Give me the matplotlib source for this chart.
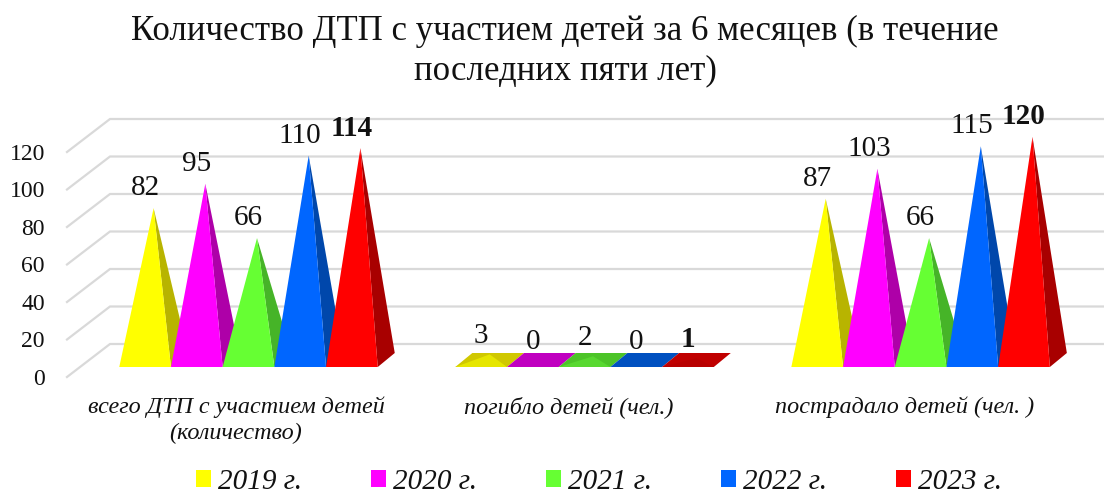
import numpy as np
import matplotlib.pyplot as plt
from matplotlib.patches import Patch

plt.rcParams['font.family'] = ['Liberation Serif', 'DejaVu Serif']

title = 'Количество ДТП с участием детей за 6 месяцев (в течение\nпоследних пяти лет)'
categories = ['всего ДТП с участием детей\n(количество)', 'погибло детей (чел.)', 'пострадало детей (чел. )']
years = ['2019 г.', '2020 г.', '2021 г.', '2022 г.', '2023 г.']
values_2019 = [82, 3, 87]
values_2020 = [95, 0, 103]
values_2021 = [66, 2, 66]
values_2022 = [110, 0, 115]
values_2023 = [114, 1, 120]
series = [values_2019, values_2020, values_2021, values_2022, values_2023]
y_ticks = [0, 20, 40, 60, 80, 100, 120]

front_colors = ['#ffff00', '#ff00ff', '#66ff33', '#0066ff', '#ff0000']
side_colors = ['#b8b400', '#ae00a8', '#46b428', '#0047ab', '#a80000']
flat_colors = ['#d0c800', '#c000c0', '#4cc428', '#0050c0', '#c00000']
low_colors = ['#e6e600', '#c000c0', '#58d830', '#0050c0', '#b80000']

W, H = 1104, 493
BAR_PX = 51.7      # pixels per bar width
VAL_PX = 1.875     # pixels per value unit
X0_PX = 248.5      # pixel of first group centre
Y0_PX = 367        # pixel of value 0 at the front of the bars
GROUP_STEP = 6.5

# depth offset of the 3d look, in data units
DX = 17 / BAR_PX
DY = 14 / VAL_PX

fig = plt.figure(figsize=(W / 100, H / 100), dpi=100)
ax = fig.add_axes([0, 0, 1, 1])
ax.set_xlim(-X0_PX / BAR_PX, (W - X0_PX) / BAR_PX)
ax.set_ylim((Y0_PX - H) / VAL_PX, Y0_PX / VAL_PX)
ax.axis('off')

# back wall grid and the slanted floor lines
wall_left = (110 - X0_PX) / BAR_PX
wall_front = (67 - X0_PX) / BAR_PX
wall_right = ax.get_xlim()[1]
back0 = (Y0_PX - 344) / VAL_PX
front0 = (Y0_PX - 377) / VAL_PX
for t in y_ticks:
    ax.plot([wall_front, wall_left, wall_right], [front0 + t, back0 + t, back0 + t],
            color='#d9d9d9', lw=1.6, zorder=1, solid_joinstyle='miter')
    ax.text((45 - X0_PX) / BAR_PX, front0 + t - 1.2, str(t), ha='right', va='center', fontsize=17, color='#111111')

# pyramids
label_shift = [-12.5, -16, -16]
order = 2
for g, cat in enumerate(categories):
    center = g * GROUP_STEP
    for s, vals in enumerate(series):
        v = vals[g]
        x0 = center + s - 2.5
        x1 = x0 + 1
        if v < 10:
            apex = (x0 + 0.5 + DX / 2, v + DY / 2)
            base = [(x0, 0), (x1, 0), (x1 + DX, DY), (x0 + DX, DY)]
            ax.fill(*zip(*base), color=flat_colors[s], lw=0, zorder=order)
            if v > 0:
                ax.fill(*zip((x0, 0), (x1, 0), apex), color=low_colors[s], lw=0, zorder=order + 1)
        else:
            apex = (x0 + 0.5 + DX / 2, v + DY / 2 - 1)
            ax.fill(*zip((x1, 0), (x1 + DX, DY), apex), color=side_colors[s], lw=0, zorder=order)
            ax.fill(*zip((x0, 0), (x1, 0), apex), color=front_colors[s], lw=0, zorder=order + 1)
        order += 2
        ax.text(x0 + 0.5, v + DY / 2 + 9.7, str(v), ha='center', va='center', fontsize=21,
                fontweight='bold' if s == 4 else 'normal', color='#111111', zorder=100)

    ax.text(center + label_shift[g] / BAR_PX, (Y0_PX - 396) / VAL_PX, cat, ha='center', va='top', fontsize=17.4,
            fontstyle='italic', color='#111111', linespacing=1.3)

fig.suptitle(title, x=565 / W, y=1 - 51 / H, va='center', fontsize=25, linespacing=1.25, color='#111111')

handles = [Patch(color=c, lw=0) for c in front_colors]
fig.legend(handles, years, loc='center', bbox_to_anchor=(599 / W, 1 - 482 / H), ncols=5, frameon=False,
           prop={'style': 'italic', 'size': 21}, handlelength=0.52, handleheight=0.52, handletextpad=0.24,
           columnspacing=2.36, labelcolor='#111111', borderpad=0)

fig.savefig('out.png', dpi=100)
